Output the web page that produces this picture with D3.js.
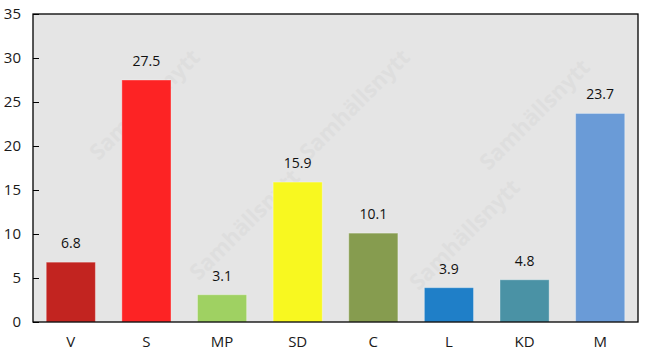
<!DOCTYPE html>
<html><head><meta charset="utf-8">
<script src="https://cdn.jsdelivr.net/npm/d3@7"></script>
<style>body{margin:0;background:#fff;}svg{display:block;font-family:"Open Sans","Noto Sans",sans-serif;}</style>
</head><body>
<svg id="c" width="646" height="357"></svg>
<script>
const categories = ["V","S","MP","SD","C","L","KD","M"];
const values = [6.8,27.5,3.1,15.9,10.1,3.9,4.8,23.7];
const colors = ["#c22420","#fd2324","#9fd162","#f8f820","#869c4f","#1f7fc8","#4a92a5","#6a9bd7"];
const yTicks = [0,5,10,15,20,25,30,35];

const svg = d3.select("#c");
const m = {l:33, r:8, t:14, b:35};
const W = 646, H = 357;
const x = d3.scaleBand().domain(categories).range([m.l, W-m.r]).paddingInner(0.35).paddingOuter(0.175);
const y = d3.scaleLinear().domain([0,35]).range([H-m.b, m.t]);

svg.append("rect").attr("x",m.l).attr("y",m.t).attr("width",W-m.r-m.l).attr("height",H-m.b-m.t).attr("fill","#e5e5e5");

// faint watermark
const wm = svg.append("g").attr("fill","#dedede").attr("font-weight","bold").attr("font-size",22);
[[150,110],[360,110],[540,120],[250,230],[470,240]].forEach(p=>{
  wm.append("text").attr("transform",`translate(${p[0]},${p[1]}) rotate(-45)`).attr("text-anchor","middle").text("Samhällsnytt");
});

svg.selectAll(".bar").data(values).join("rect")
  .attr("x",(d,i)=>x(categories[i])).attr("width",x.bandwidth())
  .attr("y",d=>y(d)).attr("height",d=>y(0)-y(d))
  .attr("fill",(d,i)=>colors[i]).attr("stroke","rgba(255,255,255,0.35)").attr("stroke-width",1);

svg.selectAll(".lbl").data(values).join("text")
  .attr("x",(d,i)=>x(categories[i])+x.bandwidth()/2).attr("y",d=>y(d)-14)
  .attr("text-anchor","middle").attr("font-size",14).attr("fill","#111").text(d=>d);

const yAxis = d3.axisLeft(y).tickValues(yTicks).tickSize(-6).tickPadding(12);
const gy = svg.append("g").attr("transform",`translate(${m.l},0)`).call(yAxis);
gy.select(".domain").remove();
gy.selectAll("line").attr("stroke","#000");
gy.selectAll("text").attr("font-size",15).attr("fill","#1a1a1a").attr("font-family","'Open Sans',sans-serif");

const xAxis = d3.axisBottom(x).tickSize(0).tickPadding(14);
const gx = svg.append("g").attr("transform",`translate(0,${H-m.b})`).call(xAxis);
gx.select(".domain").remove();
gx.selectAll("text").attr("font-size",15).attr("fill","#1a1a1a").attr("font-family","'Open Sans',sans-serif");

svg.append("rect").attr("x",m.l).attr("y",m.t).attr("width",W-m.r-m.l).attr("height",H-m.b-m.t).attr("fill","none").attr("stroke","#000").attr("stroke-width",1.3);
</script>
</body></html>
